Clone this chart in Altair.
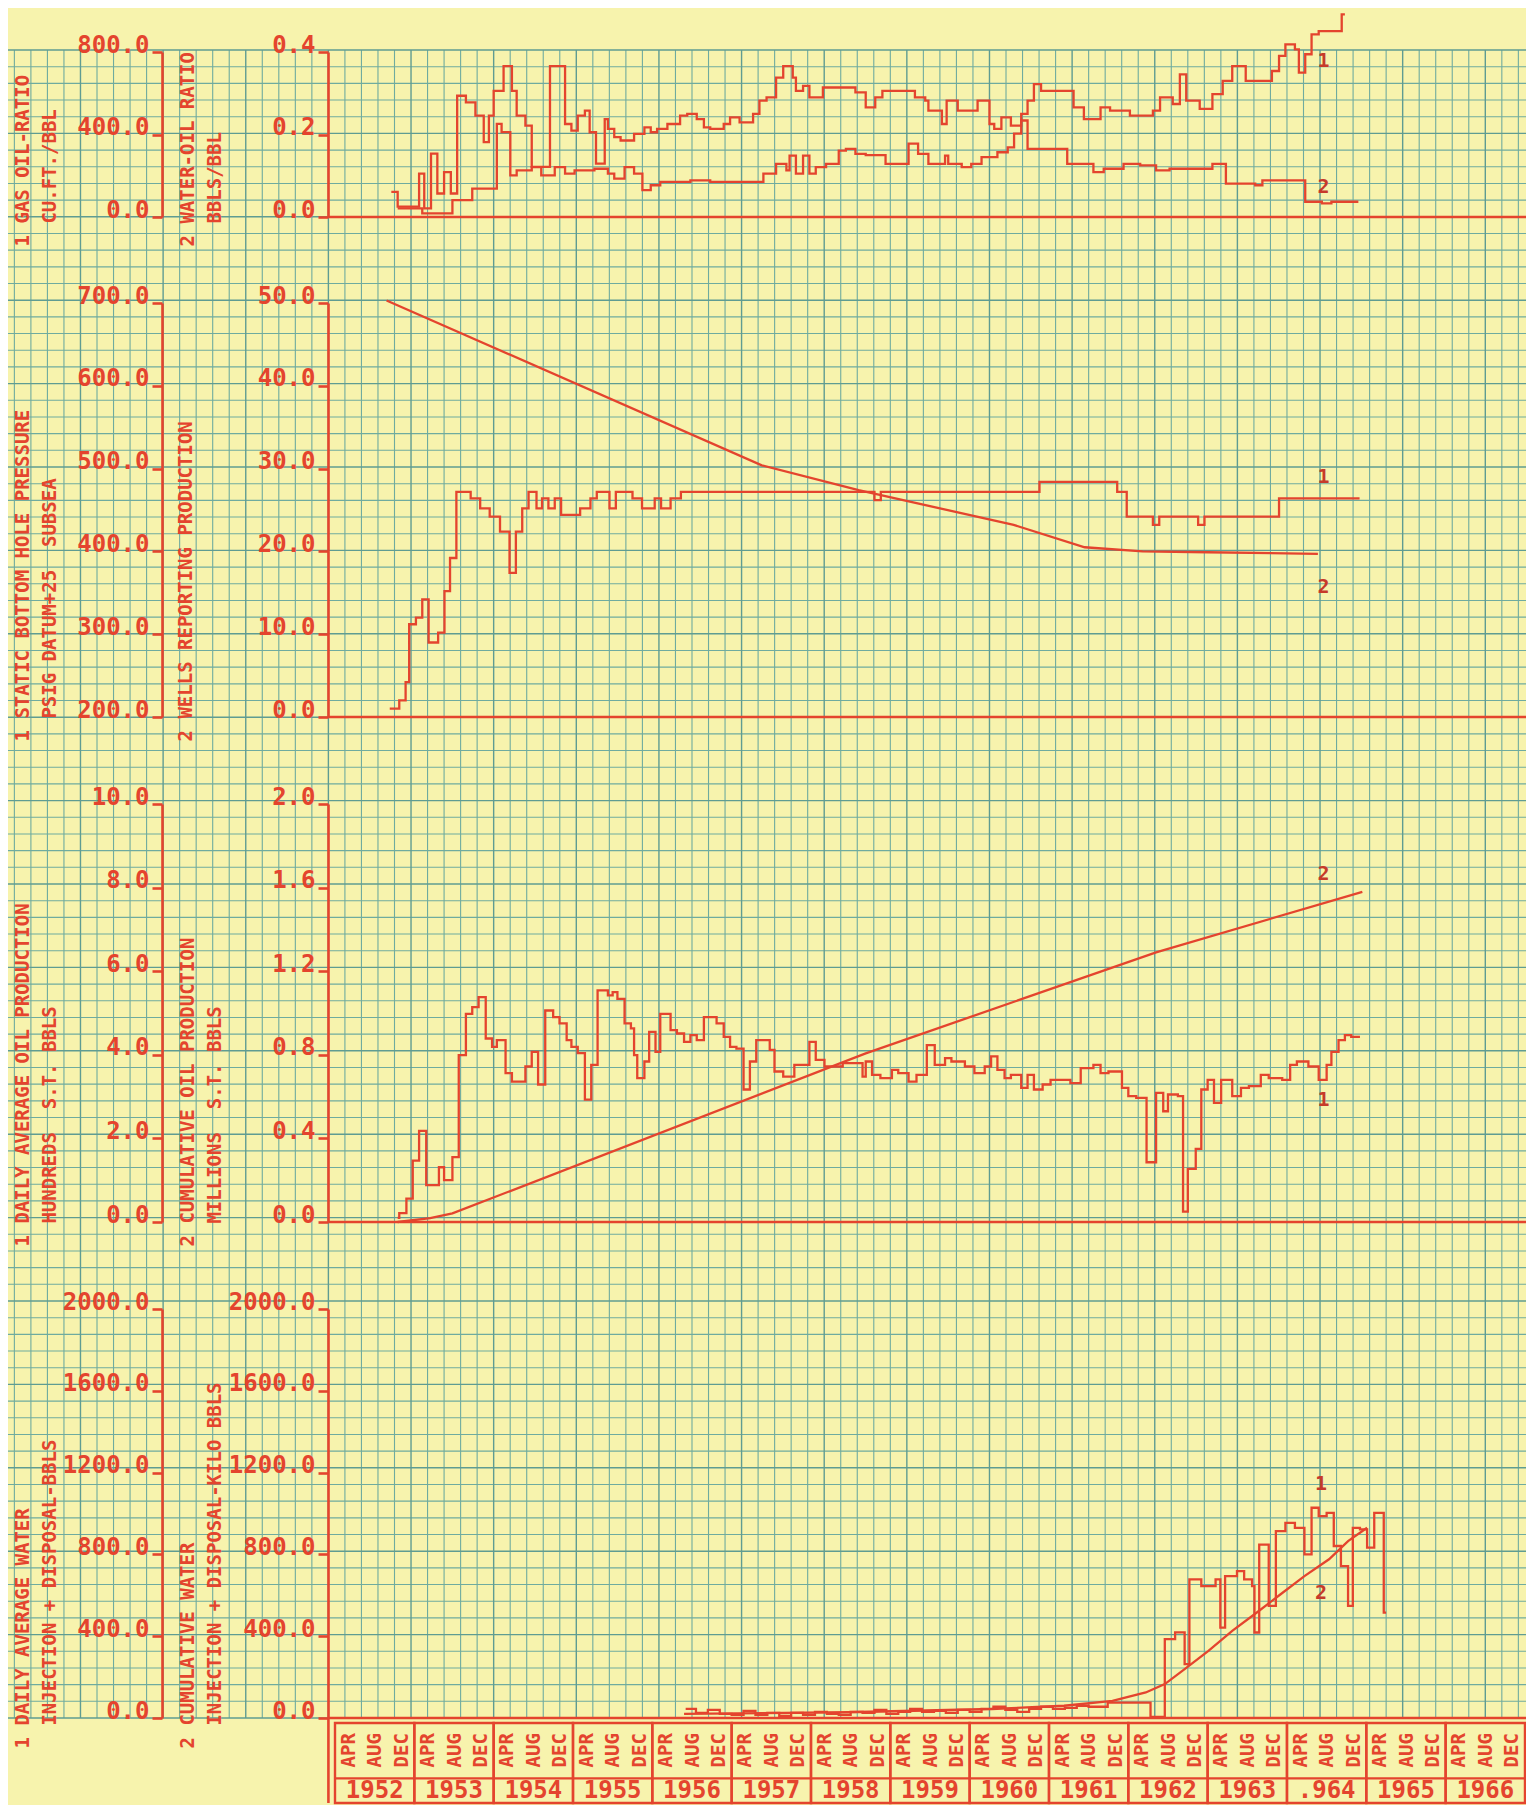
import altair as alt
import numpy as np
import pandas as pd

# ------------------------------------------------------------------ data
# Panel 1 : 1 gas-oil ratio (cu.ft./bbl), 2 water-oil ratio (bbls/bbl)
GOR_YEARS = [1952.71, 1952.79, 1953.06, 1953.125, 1953.21, 1953.29, 1953.375, 1953.46, 1953.54, 1953.65,
             1953.77, 1953.875, 1953.94, 1954.0, 1954.125, 1954.23, 1954.29, 1954.40, 1954.48, 1954.71,
             1954.90, 1954.98, 1955.06, 1955.15, 1955.21, 1955.29, 1955.40, 1955.44, 1955.52, 1955.60,
             1955.77, 1955.90, 1955.98, 1956.06, 1956.19, 1956.35, 1956.44, 1956.56, 1956.65, 1956.73,
             1956.90, 1956.98, 1957.10, 1957.27, 1957.35, 1957.44, 1957.56, 1957.65, 1957.77, 1957.81,
             1957.90, 1957.98, 1958.15, 1958.56, 1958.69, 1958.81, 1958.90, 1959.31, 1959.44, 1959.48,
             1959.65, 1959.71, 1959.85, 1960.10, 1960.25, 1960.31, 1960.40, 1960.52, 1960.65, 1960.73,
             1960.81, 1960.90, 1961.31, 1961.44, 1961.65, 1961.77, 1962.02, 1962.31, 1962.40, 1962.56,
             1962.65, 1962.73, 1962.90, 1963.06, 1963.19, 1963.31, 1963.48, 1963.81, 1963.90, 1963.98,
             1964.10, 1964.15, 1964.23, 1964.31, 1964.40, 1964.69, 1964.73]
GOR_VALUES = [122, 50, 210, 42, 307, 114, 218, 114, 588, 556,
              492, 363, 492, 612, 732, 612, 492, 443, 243, 732,
              451, 419, 492, 516, 411, 259, 475, 427, 387, 371,
              403, 435, 411, 427, 451, 492, 500, 475, 435, 427,
              451, 483, 459, 500, 564, 580, 676, 732, 676, 612,
              636, 580, 628, 604, 532, 580, 612, 580, 564, 516,
              451, 564, 516, 564, 451, 427, 483, 443, 500, 564,
              644, 612, 532, 475, 532, 516, 492, 516, 580, 548,
              692, 564, 524, 596, 660, 732, 660, 708, 781, 837,
              813, 700, 789, 885, 901, 982, 982]
WOR_YEARS = [1952.79, 1953.10, 1953.48, 1953.73, 1954.04, 1954.10, 1954.21, 1954.29, 1954.48, 1954.60,
             1954.77, 1954.90, 1955.02, 1955.27, 1955.44, 1955.52, 1955.65, 1955.77, 1955.875, 1955.98,
             1956.10, 1956.48, 1956.73, 1957.40, 1957.56, 1957.69, 1957.73, 1957.81, 1957.90, 1957.98,
             1958.06, 1958.19, 1958.35, 1958.44, 1958.56, 1958.69, 1958.94, 1959.23, 1959.35, 1959.48,
             1959.69, 1959.73, 1959.90, 1960.02, 1960.15, 1960.35, 1960.48, 1960.56, 1960.65, 1960.73,
             1961.23, 1961.56, 1961.69, 1961.94, 1962.15, 1962.35, 1962.52, 1963.06, 1963.23, 1963.60,
             1963.69, 1964.23, 1964.44, 1964.56, 1964.90]
WOR_VALUES = [0.021, 0.009, 0.041, 0.069, 0.226, 0.206, 0.101, 0.113, 0.121, 0.101,
              0.121, 0.105, 0.113, 0.117, 0.105, 0.093, 0.121, 0.105, 0.065, 0.077,
              0.085, 0.089, 0.085, 0.105, 0.129, 0.113, 0.149, 0.105, 0.149, 0.105,
              0.121, 0.129, 0.161, 0.165, 0.153, 0.150, 0.129, 0.178, 0.153, 0.129,
              0.149, 0.129, 0.121, 0.129, 0.145, 0.157, 0.169, 0.202, 0.234, 0.165,
              0.129, 0.109, 0.117, 0.129, 0.125, 0.113, 0.117, 0.129, 0.081, 0.077,
              0.089, 0.037, 0.033, 0.037, 0.037]

# Panel 2 : 1 static bottom hole pressure (psig), 2 wells reporting production
BHP_YEARS = [1952.69, 1952.81, 1952.89, 1952.935, 1953.02, 1953.10, 1953.18, 1953.30, 1953.38, 1953.45,
             1953.53, 1953.71, 1953.83, 1953.95, 1954.08, 1954.20, 1954.28, 1954.36, 1954.44, 1954.54,
             1954.61, 1954.69, 1954.77, 1954.85, 1955.09, 1955.22, 1955.30, 1955.46, 1955.54, 1955.75,
             1955.87, 1956.03, 1956.11, 1956.23, 1956.36, 1958.80, 1958.88, 1960.88, 1961.86, 1961.98,
             1962.31, 1962.39, 1962.88, 1962.96, 1963.90, 1964.915]
BHP_VALUES = [210, 220, 242, 312, 320, 342, 290, 302, 352, 392,
              472, 464, 452, 442, 424, 374, 424, 452, 472, 452,
              464, 452, 464, 444, 452, 464, 472, 452, 472, 464,
              452, 464, 452, 464, 472, 462, 472, 484, 472, 442,
              432, 442, 432, 442, 464, 464]
WELLS_YEARS = [1952.65, 1957.38, 1958.60, 1960.555, 1961.45, 1962.18, 1963.0, 1964.39]
WELLS_VALUES = [50.3, 30.4, 27.4, 23.2, 20.5, 20.0, 19.9, 19.7]

# Panel 3 : 1 daily average oil production (hundreds), 2 cumulative oil (millions)
OIL_YEARS = [1952.79, 1952.81, 1952.90, 1952.98, 1953.06, 1953.15, 1953.31, 1953.375, 1953.48, 1953.56,
             1953.65, 1953.73, 1953.81, 1953.90, 1953.98, 1954.04, 1954.15, 1954.23, 1954.40, 1954.48,
             1954.56, 1954.65, 1954.75, 1954.83, 1954.92, 1954.98, 1955.06, 1955.15, 1955.23, 1955.31,
             1955.44, 1955.50, 1955.56, 1955.65, 1955.73, 1955.77, 1955.81, 1955.90, 1955.96, 1956.04,
             1956.10, 1956.23, 1956.31, 1956.40, 1956.48, 1956.56, 1956.65, 1956.81, 1956.90, 1956.98,
             1957.06, 1957.15, 1957.23, 1957.31, 1957.48, 1957.54, 1957.65, 1957.79, 1957.98, 1958.06,
             1958.17, 1958.40, 1958.65, 1958.69, 1958.77, 1958.875, 1959.02, 1959.10, 1959.23, 1959.33,
             1959.46, 1959.56, 1959.69, 1959.77, 1959.94, 1960.06, 1960.19, 1960.27, 1960.35, 1960.44,
             1960.52, 1960.65, 1960.73, 1960.81, 1960.92, 1961.02, 1961.27, 1961.40, 1961.56, 1961.65,
             1961.75, 1961.92, 1962.00, 1962.10, 1962.23, 1962.35, 1962.44, 1962.50, 1962.625, 1962.69,
             1962.75, 1962.85, 1962.92, 1963.00, 1963.08, 1963.17, 1963.31, 1963.42, 1963.52, 1963.67,
             1963.77, 1963.94, 1964.04, 1964.125, 1964.27, 1964.40, 1964.50, 1964.56, 1964.65, 1964.73,
             1964.81, 1964.92]
OIL_VALUES = [0.10, 0.21, 0.56, 1.47, 2.18, 0.88, 1.31, 1.00, 1.55, 3.99,
              4.98, 5.14, 5.38, 4.39, 4.19, 4.35, 3.56, 3.36, 3.72, 4.07,
              3.29, 5.06, 4.90, 4.75, 4.35, 4.19, 4.04, 2.93, 3.76, 5.54,
              5.42, 5.50, 5.34, 4.75, 4.63, 3.99, 3.44, 3.84, 4.55, 4.07,
              4.98, 4.59, 4.51, 4.31, 4.47, 4.35, 4.90, 4.75, 4.43, 4.19,
              4.15, 3.17, 3.84, 4.35, 4.12, 3.60, 3.48, 3.76, 4.31, 3.88,
              3.72, 3.80, 3.48, 3.84, 3.52, 3.44, 3.64, 3.56, 3.36, 3.52,
              4.23, 3.76, 3.92, 3.84, 3.72, 3.56, 3.72, 3.96, 3.64, 3.44,
              3.52, 3.21, 3.52, 3.17, 3.29, 3.40, 3.32, 3.68, 3.76, 3.56,
              3.60, 3.21, 3.01, 2.97, 1.43, 3.09, 2.65, 3.05, 3.01, 0.25,
              1.27, 1.75, 3.17, 3.40, 2.85, 3.40, 3.01, 3.21, 3.25, 3.52,
              3.44, 3.40, 3.76, 3.84, 3.72, 3.40, 3.76, 4.07, 4.35, 4.47,
              4.43, 4.43]
CUM_OIL_YEARS = [1952.79, 1953.20, 1953.48, 1958.69, 1962.35, 1964.95]
CUM_OIL_VALUES = [0.0, 0.018, 0.041, 0.807, 1.29, 1.58]

# Panel 4 : 1 daily average water injection + disposal (bbls), 2 cumulative (kilo bbls)
WATER_YEARS = [1956.42, 1956.55, 1956.70, 1956.85, 1957.00, 1957.15, 1957.30, 1957.45, 1957.60, 1957.75,
               1957.90, 1958.05, 1958.20, 1958.35, 1958.50, 1958.65, 1958.80, 1958.95, 1959.10, 1959.25,
               1959.40, 1959.55, 1959.70, 1959.85, 1960.00, 1960.15, 1960.30, 1960.45, 1960.60, 1960.75,
               1960.90, 1961.05, 1961.20, 1961.35, 1961.50, 1961.74, 1962.28, 1962.46, 1962.59, 1962.71,
               1962.77, 1962.92, 1963.10, 1963.16, 1963.22, 1963.37, 1963.46, 1963.56, 1963.59, 1963.65,
               1963.77, 1963.86, 1963.98, 1964.10, 1964.22, 1964.31, 1964.40, 1964.50, 1964.59, 1964.68,
               1964.77, 1964.83, 1964.92, 1965.01, 1965.10, 1965.22, 1965.25]
WATER_VALUES = [45, 25, 40, 20, 15, 35, 15, 25, 10, 25,
                15, 30, 20, 15, 30, 25, 40, 20, 30, 45,
                30, 35, 25, 40, 30, 45, 55, 40, 30, 45,
                55, 45, 50, 60, 55, 75, 5, 386, 419, 263,
                678, 645, 678, 442, 694, 718, 678, 645, 418, 848,
                548, 914, 954, 930, 800, 1028, 987, 1003, 841, 743,
                548, 930, 922, 833, 1003, 515, 515]
CUM_WATER_YEARS = [1956.40, 1958.46, 1960.28, 1961.19, 1961.80, 1962.22, 1962.46, 1962.71, 1963.01,
                   1963.31, 1963.62, 1963.92, 1964.22, 1964.53, 1964.77, 1965.01]
CUM_WATER_VALUES = [20, 28, 44, 60, 84, 125, 166, 239, 328, 426, 516, 605, 694, 776, 865, 930]

# curve number tags: (text, year, value)
TAGS = {
    "gor": ("1", 1964.46, 757), "wor": ("2", 1964.46, 0.073),
    "bhp": ("1", 1964.46, 490), "wells": ("2", 1964.46, 15.7),
    "oil": ("1", 1964.46, 2.91), "cumoil": ("2", 1964.46, 1.666),
    "water": ("1", 1964.43, 1146), "cumwater": ("2", 1964.43, 610),
}

# time table along the bottom
TABLE_YEARS = list(range(1952, 1967))
YEAR_LABELS = ["1952", "1953", "1954", "1955", "1956", "1957", "1958", "1959",
               "1960", "1961", "1962", "1963", ".964", "1965", "1966"]
MONTH_LABELS = ["APR", "AUG", "DEC"]
MONTH_OFFSETS = [0.25, 0.583, 0.917]

# ------------------------------------------------------------------ style / layout
FONT = "DejaVu Sans Mono"
RED = "#e4442e"
BG = "#f7f3ad"
GRID_MINOR = "#6fab9f"
GRID_MAJOR = "#5f9c92"
NB = "\u00a0"
ZW = "\u200b"          # keeps the leading blanks of a title's second line

W, H = 1518, 1797
X0, X1 = 1947.878, 1967.013
AXIS_YEAR = 1951.917          # inner y-axes sit one month before 1952
OUTER_OFF, INNER_OFF = -154, -320
TX_OUT, TX_IN = -140, -141
# bottom of the "1"/"2" that starts each rotated title (plot px)
TY1, TY2, TY3, TY4 = 238, 733, 1238, 1740

xs = alt.Scale(domain=[X0, X1], nice=False, zero=False)


def xq(field):
    return alt.X(f"{field}:Q", scale=xs, axis=None)


def yscale(lo, hi, px_lo, px_hi):
    return alt.Scale(domain=[lo, hi], range=[px_lo, px_hi], nice=False, zero=False)


def two(a, b):
    return [a, ZW + NB * 2 + b]


def yaxis(values, offset, lines, tx, ty):
    return alt.Axis(orient="left", offset=offset, values=values, format=".1f",
                    title=lines, titleX=tx, titleY=ty, zindex=3)


def series(years, values, scale, axis, interp, tag, base=None):
    y = alt.Y("v:Q", scale=scale, axis=axis)
    df = pd.DataFrame({"year": years, "v": values})
    parts = [alt.Chart(df).mark_line(interpolate=interp, color=RED, strokeWidth=2.3)
             .encode(x=xq("year"), y=y)]
    t = pd.DataFrame({"year": [tag[1]], "v": [tag[2]], "t": [tag[0]]})
    parts.append(alt.Chart(t).mark_text(font=FONT, fontSize=20, fontWeight="bold", color="#c63a2a")
                 .encode(x=xq("year"), y=y, text="t:N"))
    if base is not None:
        b = pd.DataFrame({"x0": [AXIS_YEAR], "x1": [X1], "v": [base]})
        parts.append(alt.Chart(b).mark_rule(color=RED, strokeWidth=2.6)
                     .encode(x=xq("x0"), x2="x1:Q", y=y))
    return alt.layer(*parts)


# ------------------------------------------------------------------ graph paper
gs = yscale(0, 100, 1710, 42)
hg = pd.DataFrame({"gy": np.arange(0, 101)})
hg["x0"], hg["x1"] = X0, X1
vyears = np.arange(1947.9583, X1, 5 / 24)
vg = pd.DataFrame({"gx": vyears, "y0": 0, "y1": 100, "k": np.arange(len(vyears))})


def hrules(major):
    d = hg[(hg.gy % 5 == 0) == major]
    return alt.Chart(d).mark_rule(color=GRID_MAJOR if major else GRID_MINOR,
                                  strokeWidth=1.4 if major else 1.1).encode(
        x=xq("x0"), x2="x1:Q", y=alt.Y("gy:Q", scale=gs, axis=None))


def vrules(major):
    d = vg[(vg.k % 5 == 4) == major]
    return alt.Chart(d).mark_rule(color=GRID_MAJOR if major else GRID_MINOR,
                                  strokeWidth=1.4 if major else 1.1).encode(
        x=xq("gx"), y=alt.Y("y0:Q", scale=gs, axis=None), y2="y1:Q")


paper = alt.layer(hrules(False), vrules(False), hrules(True), vrules(True))

# ------------------------------------------------------------------ panels
p1a = series(GOR_YEARS, GOR_VALUES, yscale(0, 800, 209, 44),
             yaxis([0, 400, 800], OUTER_OFF, two("1 GAS OIL-RATIO", "CU.FT./BBL"), TX_OUT, TY1),
             "step-after", TAGS["gor"], base=0)
p1b = series(WOR_YEARS, WOR_VALUES, yscale(0, 0.4, 209, 44),
             yaxis([0, 0.2, 0.4], INNER_OFF, two("2 WATER-OIL RATIO", "BBLS/BBL"), TX_IN, TY1),
             "step-after", TAGS["wor"])

p2a = series(BHP_YEARS, BHP_VALUES, yscale(200, 700, 709, 295),
             yaxis([200, 300, 400, 500, 600, 700], OUTER_OFF,
                   two("1 STATIC BOTTOM HOLE PRESSURE", "PSIG DATUM+25" + NB + " SUBSEA"), TX_OUT, TY2),
             "step-after", TAGS["bhp"], base=200)
p2b = series(WELLS_YEARS, WELLS_VALUES, yscale(0, 50, 709, 295),
             yaxis([0, 10, 20, 30, 40, 50], INNER_OFF, "2 WELLS REPORTING PRODUCTION", -143, TY2),
             "linear", TAGS["wells"])

p3a = series(OIL_YEARS, OIL_VALUES, yscale(0, 10, 1214, 796),
             yaxis([0, 2, 4, 6, 8, 10], OUTER_OFF,
                   two("1 DAILY AVERAGE OIL PRODUCTION", "HUNDREDS" + NB + " S.T. BBLS"), TX_OUT, TY3),
             "step-after", TAGS["oil"], base=0)
p3b = series(CUM_OIL_YEARS, CUM_OIL_VALUES, yscale(0, 2, 1214, 796),
             yaxis([0, 0.4, 0.8, 1.2, 1.6, 2.0], INNER_OFF,
                   two("2 CUMULATIVE OIL PRODUCTION", "MILLIONS" + NB + " S.T. BBLS"), TX_IN, TY3),
             "linear", TAGS["cumoil"])

p4a = series(WATER_YEARS, WATER_VALUES, yscale(0, 2000, 1710, 1301),
             yaxis([0, 400, 800, 1200, 1600, 2000], OUTER_OFF,
                   two("1 DAILY AVERAGE WATER", "INJECTION + DISPOSAL-BBLS"), TX_OUT, TY4),
             "step-after", TAGS["water"], base=0)
p4b = series(CUM_WATER_YEARS, CUM_WATER_VALUES, yscale(0, 2000, 1710, 1301),
             yaxis([0, 400, 800, 1200, 1600, 2000], INNER_OFF,
                   two("2 CUMULATIVE WATER", "INJECTION + DISPOSAL-KILO BBLS"), TX_IN, TY4),
             "linear", TAGS["cumwater"])

# ------------------------------------------------------------------ time table
ts = yscale(0, 1, 1795, 1710)
boxes = pd.DataFrame({"x0": TABLE_YEARS, "x1": [y + 1 for y in TABLE_YEARS], "b": 0.0, "t": 0.941})
box_layer = alt.Chart(boxes).mark_rect(fillOpacity=0, stroke=RED, strokeWidth=2.4).encode(
    x=xq("x0"), x2="x1:Q", y=alt.Y("b:Q", scale=ts, axis=None), y2="t:Q")
sep = pd.DataFrame({"x0": [TABLE_YEARS[0]], "x1": [TABLE_YEARS[-1] + 1], "y": [0.29]})
sep_layer = alt.Chart(sep).mark_rule(color=RED, strokeWidth=2.2).encode(
    x=xq("x0"), x2="x1:Q", y=alt.Y("y:Q", scale=ts, axis=None))
ext = pd.DataFrame({"x": [AXIS_YEAR], "b": [0.0], "t": [1.0]})
ext_layer = alt.Chart(ext).mark_rule(color=RED, strokeWidth=2.6).encode(
    x=xq("x"), y=alt.Y("b:Q", scale=ts, axis=None), y2="t:Q")
months = pd.DataFrame([{"x": yr + off, "y": 0.62, "t": m}
                       for yr in TABLE_YEARS for m, off in zip(MONTH_LABELS, MONTH_OFFSETS)])
month_layer = alt.Chart(months).mark_text(angle=270, align="center", baseline="alphabetic",
                                          font=FONT, fontSize=19, fontWeight="bold", color=RED).encode(
    x=xq("x"), y=alt.Y("y:Q", scale=ts, axis=None), text="t:N")
yl = pd.DataFrame({"x": [y + 0.5 for y in TABLE_YEARS], "y": 0.145, "t": YEAR_LABELS})
year_layer = alt.Chart(yl).mark_text(align="center", baseline="middle", font=FONT,
                                     fontSize=24, fontWeight="bold", color=RED).encode(
    x=xq("x"), y=alt.Y("y:Q", scale=ts, axis=None), text="t:N")
table = alt.layer(box_layer, sep_layer, ext_layer, month_layer, year_layer)

# ------------------------------------------------------------------ assemble
chart = (
    alt.layer(paper, p1a, p1b, p2a, p2b, p3a, p3b, p4a, p4b, table)
    .resolve_scale(y="independent")
    .resolve_axis(y="independent")
    .properties(width=W, height=H, padding=0, background=BG,
                autosize=alt.AutoSizeParams(type="none"))
    .configure_view(stroke=None)
    .configure_axis(domainColor=RED, domainWidth=2.6, tickColor=RED, tickWidth=2.6, tickSize=10,
                    labelColor=RED, labelFont=FONT, labelFontSize=24, labelFontWeight="bold",
                    labelPadding=3, labelBaseline="alphabetic", labelAlign="right",
                    labelFlush=False, labelOverlap=False, grid=False, titleColor=RED,
                    titleFont=FONT, titleFontSize=19, titleFontWeight="bold", titleAngle=270,
                    titleAlign="left", titleBaseline="middle", titleLineHeight=27)
)

chart.save("out.html", embed_options={"renderer": "svg", "actions": False})
